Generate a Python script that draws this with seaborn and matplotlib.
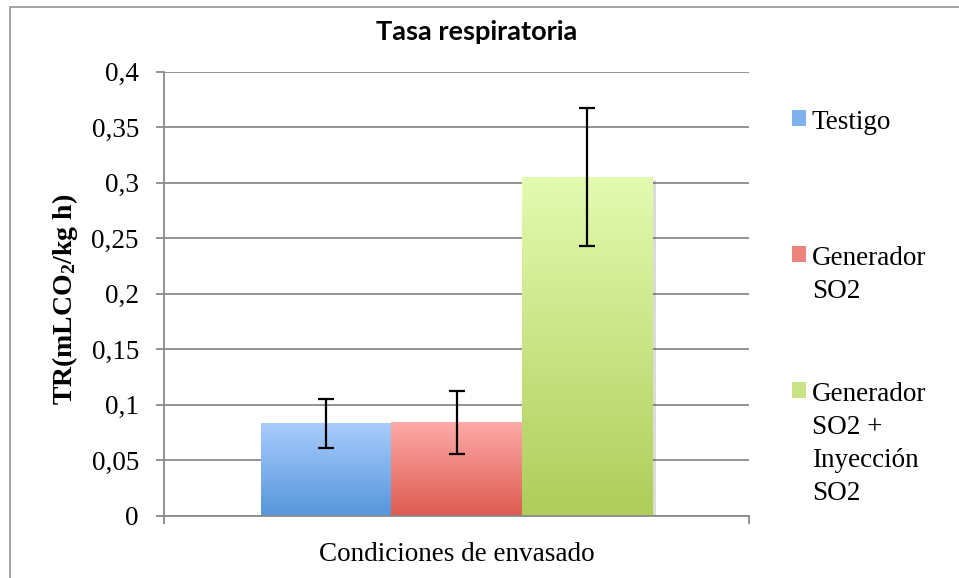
import numpy as np
import pandas as pd
import seaborn as sns
import matplotlib.pyplot as plt
import matplotlib.patheffects as pe
from matplotlib.colors import LinearSegmentedColormap, to_rgb
from matplotlib.patches import Rectangle

# data
condicion = 'Condiciones de envasado'
series = ['Testigo', 'Generador SO2', 'Generador SO2 + Inyección SO2']
legend_labels = ['Testigo', 'Generador\nSO2', 'Generador\nSO2 +\nInyección\nSO2']
tr_mean = [0.083, 0.084, 0.305]
tr_err = [0.022, 0.028, 0.062]
y_ticks = [0, 0.05, 0.1, 0.15, 0.2, 0.25, 0.3, 0.35, 0.4]
y_tick_labels = ['0', '0,05', '0,1', '0,15', '0,2', '0,25', '0,3', '0,35', '0,4']

# excel-like gradient colours (bottom, top)
bottom_cols = ['#5596db', '#dd5b4f', '#aecd5a']
top_cols = ['#a9ccfd', '#fdaaa8', '#e3fbb0']
grid_col = '#8a8a8a'

plt.rcParams['mathtext.default'] = 'regular'
serif = 'Liberation Serif'
fs = 19.5

df = pd.DataFrame({'cond': [condicion] * 3, 'serie': series, 'tr': tr_mean})

fig = plt.figure(figsize=(9.59, 5.78), dpi=100)
ax = fig.add_axes([164 / 959, 62.3 / 578, 585 / 959, 444 / 578])

sns.barplot(data=df, x='cond', y='tr', hue='serie', hue_order=series,
            palette=bottom_cols, width=0.67, errorbar=None, ax=ax,
            saturation=1, legend=True)

# gradient fill + soft shadow on each bar
centers = []
for i, cont in enumerate(ax.containers):
    for bar in cont:
        x, y = bar.get_x(), bar.get_y()
        w, h = bar.get_width(), bar.get_height()
        centers.append(x + w / 2)
        cmap = LinearSegmentedColormap.from_list('g%d' % i, [bottom_cols[i], top_cols[i]])
        grad = np.linspace(0, 1, 256).reshape(-1, 1)
        ax.imshow(grad, cmap=cmap, extent=[x, x + w, y, y + h], origin='lower',
                  aspect='auto', zorder=2)
        bar.set_zorder(1.9)
        bar.set_path_effects([pe.SimplePatchShadow(offset=(2.5, -2), alpha=0.18), pe.Normal()])

ax.errorbar(centers, tr_mean, yerr=tr_err, fmt='none', ecolor='black',
            elinewidth=1.6, capsize=6, capthick=1.6, zorder=3)

ax.set_xlim(-0.5, 0.5)
ax.set_ylim(0, 0.4)
ax.set_yticks(y_ticks)
ax.set_yticklabels(y_tick_labels, fontsize=fs, family=serif)
ax.set_xticks([])
ax.set_xticks([-0.5, 0.5], minor=True)
ax.tick_params(axis='x', which='minor', length=5.5, width=1.3, color=grid_col, direction='out')
ax.tick_params(axis='y', length=5.5, width=1.3, color=grid_col, direction='out', pad=12.5)

ax.set_axisbelow(True)
ax.yaxis.grid(True, color=grid_col, lw=1.3)
ax.xaxis.grid(False)
for s in ['top', 'right']:
    ax.spines[s].set_visible(False)
for s in ['left', 'bottom']:
    ax.spines[s].set_color(grid_col)
    ax.spines[s].set_linewidth(1.3)
ax.set_facecolor('white')

ax.set_xlabel(condicion, fontsize=fs, family=serif, labelpad=10)
ax.set_ylabel('TR(mLCO$_2$/kg h)', fontsize=20, family=serif, fontweight='bold')
ax.yaxis.set_label_coords(-0.1436, 0.488)

# legend: each entry gets the same 4-line slot, square aligned to the first line
handles, _ = ax.get_legend_handles_labels()
for i, hd in enumerate(handles):
    mid = 0.5 * (np.array(to_rgb(bottom_cols[i])) + np.array(to_rgb(top_cols[i])))
    hd.set_facecolor(mid)
padded = [lab + '\n' * (3 - lab.count('\n')) for lab in legend_labels]
leg = ax.legend(handles, padded, loc='upper left', bbox_to_anchor=(792 / 959, (578 - 110) / 578),
                bbox_transform=fig.transFigure, frameon=False, borderpad=0, borderaxespad=0,
                handlelength=0.53, handleheight=0.53, handletextpad=0.2, labelspacing=0.44,
                prop={'family': serif, 'size': fs})
for t in leg.get_texts():
    t.set_linespacing(1.42)
for col in leg._legend_handle_box.get_children():
    for item in col.get_children():
        item.align = 'top'

fig.text(476.5 / 959, (578 - 40) / 578, 'Tasa respiratoria', ha='center', va='baseline',
         fontsize=19.5, fontweight='bold', family='Lato')

# outer chart border
fig.patches.append(Rectangle((10 / 959, -0.05), 1.0, (578 - 7) / 578 + 0.05,
                             transform=fig.transFigure, fill=False, edgecolor='#8c8c8c', lw=1.1))

fig.savefig('out.png', dpi=100, facecolor='white')
